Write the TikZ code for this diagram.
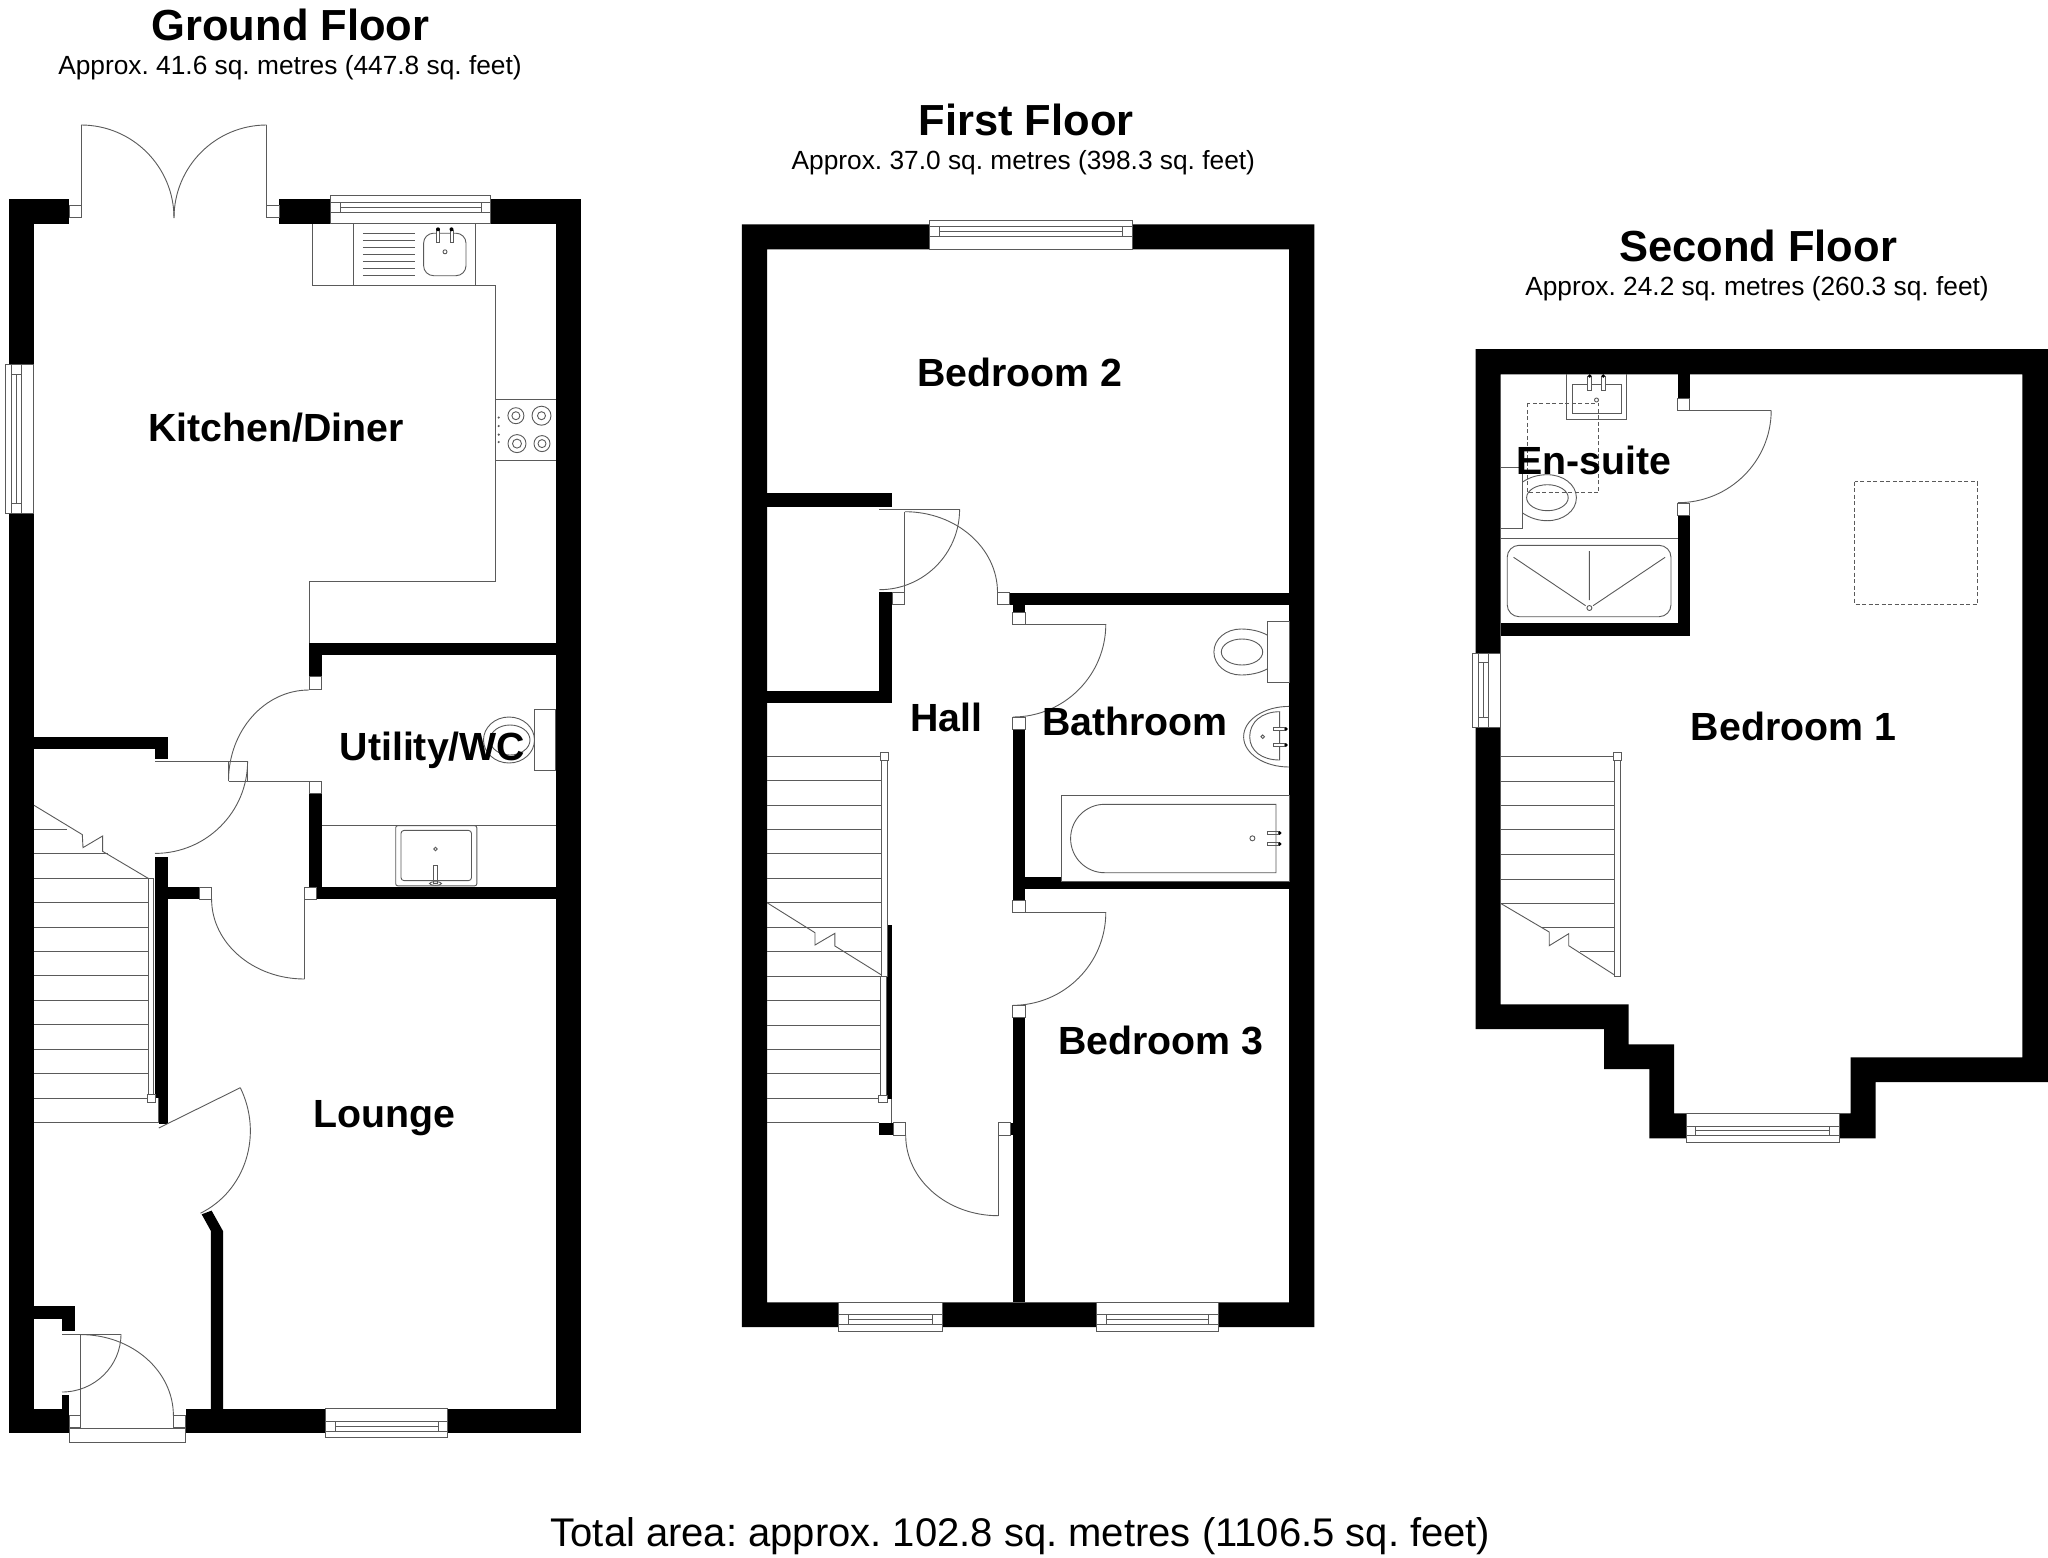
\documentclass[tikz,border=0pt]{standalone}
\usepackage{fontspec}
\setmainfont{Liberation Sans}
\usetikzlibrary{calc}
\frenchspacing
\definecolor{fineline}{HTML}{5A5A5A}
\tikzset{
  fine/.style={draw=fineline,line width=0.9pt},
  dashbox/.style={draw=fineline,line width=0.9pt,dash pattern=on 4pt off 2.5pt},
  wallfill/.style={fill=black},
  jambbox/.style={fine,fill=white},
  roomlabel/.style={inner sep=0pt,anchor=base,font=\bfseries\fontsize{39.3}{39.3}\selectfont},
  floortitle/.style={inner sep=0pt,anchor=base,font=\bfseries\fontsize{43.5}{43.5}\selectfont},
  floorarea/.style={inner sep=0pt,anchor=base,font=\fontsize{26.3}{26.3}\selectfont},
  totalarea/.style={inner sep=0pt,anchor=base,font=\fontsize{40}{40}\selectfont},
}
\newcommand\wl[4]{\fill[wallfill] (#1,#2) rectangle (#3,#4);}
\newcommand\jb[4]{\draw[jambbox] (#1,#2) rectangle (#3,#4);}
\newcommand\qarc[6]{\draw[fine] (#1,#2) .. controls ($(#1,#2)!.5523!(#5,#6)$) and ($(#3,#4)!.5523!(#5,#6)$) .. (#3,#4);}
\newcommand\hwin[8]{\draw[jambbox] (#1,#2) rectangle (#3,#4);
  \draw[fine] (#1,#7) -- (#3,#7) (#1,#8) -- (#3,#8) (#5,#7) -- (#5,#8) (#6,#7) -- (#6,#8);}
\newcommand\vwin[8]{\draw[jambbox] (#1,#2) rectangle (#3,#4);
  \draw[fine] (#5,#2) -- (#5,#4) (#6,#2) -- (#6,#4) (#5,#7) -- (#6,#7) (#5,#8) -- (#6,#8);}
\begin{document}
\begin{tikzpicture}[x=1pt,y=-1pt]
\useasboundingbox (0,0) rectangle (2048,1558);
\fill[white] (0,0) rectangle (2048,1558);

% ===================== GROUND FLOOR =====================
\wl{8.8}{199.3}{69}{224.3}
\wl{8.8}{199.3}{34}{1433.4}
\wl{279}{199.3}{330}{224.3}
\wl{490.6}{199.3}{580.6}{224.3}
\wl{555.7}{199.3}{580.6}{1433.4}
\wl{8.8}{1408.8}{69}{1433.4}
\wl{185.6}{1408.8}{580.6}{1433.4}
\wl{309}{642.6}{555.7}{655.2}
\wl{309}{642.6}{321.5}{676.6}
\wl{309}{793.8}{321.5}{899}
\wl{316.9}{887}{555.7}{899}
\wl{34}{736.8}{167.6}{748.8}
\wl{155}{736.8}{167.6}{759.2}
\wl{155}{856.5}{167.6}{1098}
\wl{158.8}{1098}{167.6}{1123.8}
\wl{167.6}{887}{199}{899}
\wl{34}{1306.3}{74.6}{1318.9}
\wl{62}{1306.3}{74.6}{1331.4}
\wl{62}{1395.2}{69}{1408.8}
\fill[wallfill] (201.7,1214.3) -- (211.6,1210.6) -- (223,1231) -- (223,1408.8) -- (210.9,1408.8) -- (210.9,1231) -- cycle;

% french doors
\jb{69}{205.7}{81}{217.9}
\jb{266.7}{205.7}{279}{217.9}
\draw[fine] (81,205.7) -- (81,125);
\draw[fine] (266.7,205.7) -- (266.7,125);
\qarc{81}{125}{174}{218}{174}{125}
\qarc{266.7}{125}{174}{218}{174}{125}

% kitchen window
\hwin{330}{195.4}{490.6}{223.6}{340}{481.4}{202}{212}
\draw[fine] (340,207) -- (481.4,207);
% left window
\vwin{5.4}{364.3}{33.7}{513.2}{11.5}{21.8}{374.3}{503.6}
\draw[fine] (16.8,374.3) -- (16.8,503.6);

% worktop
\draw[fine] (312,224.3) -- (312,285) -- (495.6,285) -- (495.6,581.8) -- (309,581.8) -- (309,642.6);
\draw[fine] (353,224.3) -- (353,285) (475,224.3) -- (475,285);
\foreach \yy in {233.2,240.4,247.5,254.6,261.4,268.6,275.4} {\draw[fine] (362.8,\yy) -- (414.5,\yy);}
\draw[fine,rounded corners=10pt] (423.6,233.2) rectangle (466,275.7);
\draw[jambbox] (436.7,230.4) rectangle (439.3,242.5);
\draw[jambbox] (450,230.4) rectangle (453,242.5);
\fill (438,229.3) circle[radius=2];
\fill (451.5,229.3) circle[radius=2];
\draw[fine] (445,251.8) circle[radius=2];
% hob
\draw[fine] (495.6,399.3) -- (555.7,399.3) (495.6,460.7) -- (555.7,460.7);
\draw[fine] (515.9,415.7) circle[radius=8] (515.9,415.7) circle[radius=4];
\draw[fine] (541.5,415.7) circle[radius=9.5] (541.5,415.7) circle[radius=4];
\draw[fine] (517,443.6) circle[radius=9] (517,443.6) circle[radius=4.5];
\draw[fine] (542,443.6) circle[radius=8] (542,443.6) circle[radius=4];
\foreach \yy in {417.5,426,434.6,442} {\fill[fineline] (498.7,\yy) circle[radius=1.2];}

% utility door and hall door
\jb{309}{676.6}{321.5}{689.2}
\jb{309}{781}{321.5}{793.8}
\draw[fine] (309,781) -- (228.5,781);
\qarc{309}{690}{228.5}{781}{228.5}{690}
\draw[fine] (155,761.3) -- (247.6,761.3) -- (247.6,781);
\draw[fine] (228.5,761.3) -- (228.5,781);
\qarc{247.6}{761.3}{155}{853.4}{247.6}{853.4}
% lounge door top
\jb{199}{887}{211.6}{899}
\jb{304.6}{887}{316.9}{899}
\draw[fine] (304.6,899) -- (304.6,979);
\qarc{211.6}{899}{304.6}{979}{211.6}{979}

% stairs
\foreach \yy in {878.5,902.5,927.1,951.7,975.8,1000.4,1024.9,1049,1073.6,1098.2} {\draw[fine] (34,\yy) -- (148.5,\yy);}
\draw[fine] (34,829.3) -- (67,829.3) (34,853.9) -- (108,853.9);
\draw[fine] (34,1122.2) -- (158.8,1122.2) -- (158.8,1098);
\draw[fine] (148.5,878.5) rectangle (153.9,1095);
\jb{147}{1094}{155}{1102}
\draw[fine] (34,805.3) -- (82.3,834.6) -- (83,847.6) -- (102.6,836) -- (102.6,851.3) -- (148.5,878.5);

% lounge door (angled)
\draw[fine] (158.8,1128) -- (240.3,1087.7);
\qarc{240.3}{1087.7}{200.5}{1213.2}{282}{1172.9}

% front door
\jb{69}{1415.6}{80.4}{1427.6}
\jb{173.4}{1415.6}{185.6}{1427.6}
\draw[jambbox] (69,1428.7) rectangle (185.6,1442.8);
\draw[fine] (80.8,1415.6) -- (80.8,1334.6);
\qarc{80.8}{1334.6}{173.4}{1415.6}{173.4}{1334.6}
\draw[fine] (62,1334) -- (121,1334);
\qarc{121}{1334}{62}{1392}{121}{1392}
% lounge window
\hwin{325.7}{1408.8}{447.8}{1437.6}{335.2}{438.2}{1421.4}{1431.3}
\draw[fine] (335.2,1426.5) -- (438.2,1426.5);

% utility fittings
\draw[fine] (534.6,709.6) rectangle (555.7,770.8);
\draw[fine] (509,740) ellipse[x radius=25.5,y radius=23];
\draw[fine] (510,740) ellipse[x radius=20,y radius=15];
\draw[fine] (321.5,825.7) -- (555.7,825.7);
\draw[fine,rounded corners=2pt] (395.7,825.7) rectangle (476.8,885.8);
\draw[fine,rounded corners=3pt] (401,830.4) rectangle (471.5,880.6);
\draw[fine] (435.5,849) circle[radius=1.8];
\draw[fine] (433.6,865) rectangle (437.4,883);
\draw[fine] (435.5,883.5) ellipse[x radius=6,y radius=1.8];

% ===================== FIRST FLOOR =====================
\fill[wallfill,even odd rule] (741.9,224.3) rectangle (1314.4,1327) (767.1,249.3) rectangle (1289.1,1302.3);
\wl{767}{493.3}{891.5}{506.7}
\wl{879.3}{592.3}{891.5}{702.7}
\wl{767}{690.7}{891.5}{702.7}
\wl{1009.8}{592.7}{1289.1}{605.3}
\wl{1012.8}{605.3}{1025}{612}
\wl{1012.8}{729}{1025}{900.7}
\wl{1025}{881}{1289.1}{889.3}
\wl{1025}{876.7}{1061.8}{881}
\wl{1012.8}{1017.3}{1025}{1302.3}
\wl{1010.5}{1122.7}{1012.8}{1135.3}
\wl{887.3}{925.3}{891.5}{1099}
\wl{878.9}{1122.7}{893.4}{1135.3}

\hwin{929.4}{220.7}{1132.2}{249.3}{939}{1122.6}{226.3}{236.7}
\draw[fine] (939,231.7) -- (1122.6,231.7);
\hwin{838.7}{1302.3}{942.4}{1331}{848.3}{932.5}{1314.3}{1324.3}
\draw[fine] (848.3,1319.7) -- (932.5,1319.7);
\hwin{1096.6}{1302.3}{1218.3}{1331}{1106.6}{1208.4}{1314.3}{1324.3}
\draw[fine] (1106.6,1319.7) -- (1208.4,1319.7);

% cupboard door
\draw[fine] (879.3,509.3) -- (959.6,509.3);
\qarc{959.6}{509.3}{879.3}{589.7}{959.6}{589.7}
\jb{892.3}{592.3}{904.9}{604.3}
\draw[fine] (904.9,592.3) -- (904.9,511.7);
\qarc{904.9}{511.7}{997.5}{592.3}{997.5}{511.7}
\jb{997.5}{592.7}{1009.8}{604.7}
% bathroom door
\jb{1012.8}{612}{1025}{624}
\draw[fine] (1025,624) -- (1105.8,624);
\qarc{1105.8}{624}{1012.8}{717}{1105.8}{717}
\jb{1012.8}{717}{1025}{729}
% bath
\draw[jambbox] (1061.8,795.3) rectangle (1289.1,881);
\draw[fine] (1276,804.3) -- (1104.6,804.3) .. controls (1085.8,804.3) and (1070.6,819.6) .. (1070.6,838.5) .. controls (1070.6,857.4) and (1085.8,872.7) .. (1104.6,872.7) -- (1276,872.7) -- cycle;
\draw[fine] (1252.4,838.3) circle[radius=2.5];
\draw[fine] (1267,831.3) rectangle (1279.5,834.7) (1267,842.3) rectangle (1279.5,845.7);
\fill (1279.8,833) circle[radius=1.9] (1279.8,844) circle[radius=1.9];
% toilet
\draw[fine] (1267,621.7) rectangle (1289.1,682.3);
\draw[fine] (1267,635) .. controls (1260,631) and (1250,629) .. (1241,629) .. controls (1226,629) and (1213.9,639) .. (1213.9,652) .. controls (1213.9,665) and (1226,675) .. (1241,675) .. controls (1250,675) and (1260,673) .. (1267,669);
\draw[fine] (1242,652) ellipse[x radius=20.7,y radius=13];
% basin
\qarc{1289.1}{706.4}{1243.6}{736.7}{1243.6}{706.4}
\qarc{1243.6}{736.7}{1289.1}{767}{1243.6}{767}
\draw[fine] (1279.6,711.7) .. controls (1262,711.7) and (1249.7,722) .. (1249.7,736.7) .. controls (1249.7,751) and (1262,760) .. (1279.6,760) -- cycle;
\draw[fine] (1262.7,736.7) circle[radius=1.8];
\draw[jambbox] (1273.4,727.3) rectangle (1285.5,730.7);
\draw[jambbox] (1273.4,743.3) rectangle (1285.5,746.7);
\fill (1286,729) circle[radius=1.9] (1286,745) circle[radius=1.9];
% bedroom 3 door
\jb{1012.8}{900.7}{1025}{912.3}
\draw[fine] (1025,912.3) -- (1105.8,912.3);
\qarc{1105.8}{912.3}{1012.8}{1005.3}{1105.8}{1005.3}
\jb{1012.8}{1005.3}{1025}{1017.3}
% hall door to front room
\jb{893.4}{1122.7}{905.7}{1135.3}
\jb{998.3}{1122.7}{1010.5}{1135.3}
\draw[fine] (998.3,1135.3) -- (998.3,1215.7);
\qarc{905.7}{1135.3}{998.3}{1215.7}{905.7}{1215.7}
% stairs
\foreach \yy in {756.3,780.7,805,829.3,853.7,878.3,902.7,927,951.5,976,1000.3,1025,1049.7,1073.7,1098.3} {\draw[fine] (767,\yy) -- (881,\yy);}
\draw[fine] (767,1122.7) -- (878.9,1122.7);
\draw[fine] (891.5,1099) -- (891.5,1122.7);
\draw[fine] (881.5,760) rectangle (887.3,976);
\draw[fine] (880,976) rectangle (886.5,1095);
\jb{880.4}{752.7}{888.8}{760}
\jb{878.9}{1095}{887.3}{1102.3}
\draw[fine] (767,902.7) -- (815,932.7) -- (815,945) -- (834.9,933.3) -- (834.9,946) -- (881.5,975);

% ===================== SECOND FLOOR =====================
\fill[wallfill,even odd rule] (1475.7,349) -- (2048,349) -- (2048,1082) -- (1875.5,1082) -- (1875.5,1138.3) -- (1649.4,1138.3) -- (1649.4,1069) -- (1604,1069) -- (1604,1029) -- (1475.7,1029) -- cycle
 (1500.5,374.3) -- (2022.4,374.3) -- (2022.4,1057.3) -- (1850.7,1057.3) -- (1850.7,1113.3) -- (1674.1,1113.3) -- (1674.1,1044.3) -- (1628.7,1044.3) -- (1628.7,1004.3) -- (1500.5,1004.3) -- cycle;
\wl{1677.9}{374.3}{1689.9}{398.3}
\wl{1677.9}{515}{1689.9}{635.7}
\wl{1500.5}{623.3}{1689.9}{635.7}
\jb{1677.9}{398.3}{1689.9}{410.3}
\jb{1677.9}{503}{1689.9}{515}
\draw[fine] (1689.9,410.3) -- (1771.2,410.3);
\qarc{1771.2}{410.3}{1677.9}{502.7}{1771.2}{502.7}
\hwin{1686.1}{1113.3}{1839.1}{1142.7}{1695.5}{1829.3}{1126}{1135.7}
\draw[fine] (1695.5,1130.7) -- (1829.3,1130.7);
\vwin{1472.4}{653.3}{1500.5}{727.3}{1478.7}{1488.5}{662.7}{717.3}
\draw[fine] (1483.6,662.7) -- (1483.6,717.3);
% shower
\draw[fine] (1500.5,538.3) -- (1677.9,538.3);
\draw[fine,rounded corners=12pt] (1507.2,545.3) rectangle (1671,616.7);
\draw[fine] (1589.4,551) -- (1589.4,600) (1513.6,557.3) -- (1585.6,605.7) (1665.1,557.3) -- (1593.1,605.7);
\draw[fine] (1589.4,608) circle[radius=2.5];
% basin
\draw[fine] (1566,374.3) -- (1566,419.3) -- (1626.9,419.3) -- (1626.9,374.3);
\draw[fine] (1572,384.3) rectangle (1621,413);
\draw[jambbox] (1587.9,376.7) rectangle (1591.6,390);
\draw[jambbox] (1601.4,376.7) rectangle (1605.1,390);
\fill (1589.7,376) circle[radius=1.9] (1603.2,376) circle[radius=1.9];
\draw[fine] (1596.5,400) circle[radius=2];
% toilet
\draw[fine] (1500.5,467.3) -- (1522.6,467.3) -- (1522.6,528.3) -- (1500.5,528.3);
\draw[fine] (1522.6,482) .. controls (1530,477) and (1538,474.7) .. (1547.4,474.7) .. controls (1563,474.7) and (1576.4,484.5) .. (1576.4,497.7) .. controls (1576.4,511) and (1563,520.7) .. (1547.4,520.7) .. controls (1538,520.7) and (1530,518) .. (1522.6,513);
\draw[fine] (1547.4,497.7) ellipse[x radius=20.8,y radius=13];
% dashed rectangles
\draw[dashbox] (1527.5,403.3) rectangle (1598.7,492.7);
\draw[dashbox] (1854.8,481.7) rectangle (1977.4,604.3);
% stairs
\foreach \yy in {756.7,781,805.7,829.7,854.3,879,903.3} {\draw[fine] (1500.5,\yy) -- (1614.5,\yy);}
\draw[fine] (1540.6,927.7) -- (1614.5,927.7) (1580,951.7) -- (1614.5,951.7);
\draw[fine] (1614.5,760.7) rectangle (1620.5,976.3);
\jb{1613.4}{752.3}{1621.6}{760.7}
\draw[fine] (1500.5,903.3) -- (1549.2,932) -- (1549.2,945.7) -- (1568.7,933.7) -- (1568.7,945.7) -- (1614.5,975);

% ===================== TEXT =====================
\node[floortitle] (t1) at (290.5,40) {Ground Floor};
\node[floorarea] (a1) at (290,74.4) {Approx. 41.6 sq. metres (447.8 sq. feet)};
\node[floortitle] (t2) at (1026,135) {First Floor};
\node[floorarea] (a2) at (1023.3,169.3) {Approx. 37.0 sq. metres (398.3 sq. feet)};
\node[floortitle] (t3) at (1758,261) {Second Floor};
\node[floorarea] (a3) at (1757,295) {Approx. 24.2 sq. metres (260.3 sq. feet)};
\node[totalarea] (tot) at (1020.5,1546) {Total area: approx. 102.8 sq. metres (1106.5 sq. feet)};
\node[roomlabel] (kit) at (275.8,441) {Kitchen/Diner};
\node[roomlabel] (lou) at (384.6,1127.4) {Lounge};
\node[roomlabel] (uti) at (432.5,760.3) {Utility/WC};
\node[roomlabel] (bd2) at (1020,386) {Bedroom 2};
\node[roomlabel] (bd3) at (1161,1054) {Bedroom 3};
\node[roomlabel] (hal) at (946.3,731.7) {Hall};
\node[roomlabel] (bat) at (1135,735) {Bathroom};
\node[roomlabel] (ens) at (1593.7,474) {En-suite};
\node[roomlabel] (bd1) at (1793.5,740) {Bedroom 1};
\end{tikzpicture}
\end{document}
